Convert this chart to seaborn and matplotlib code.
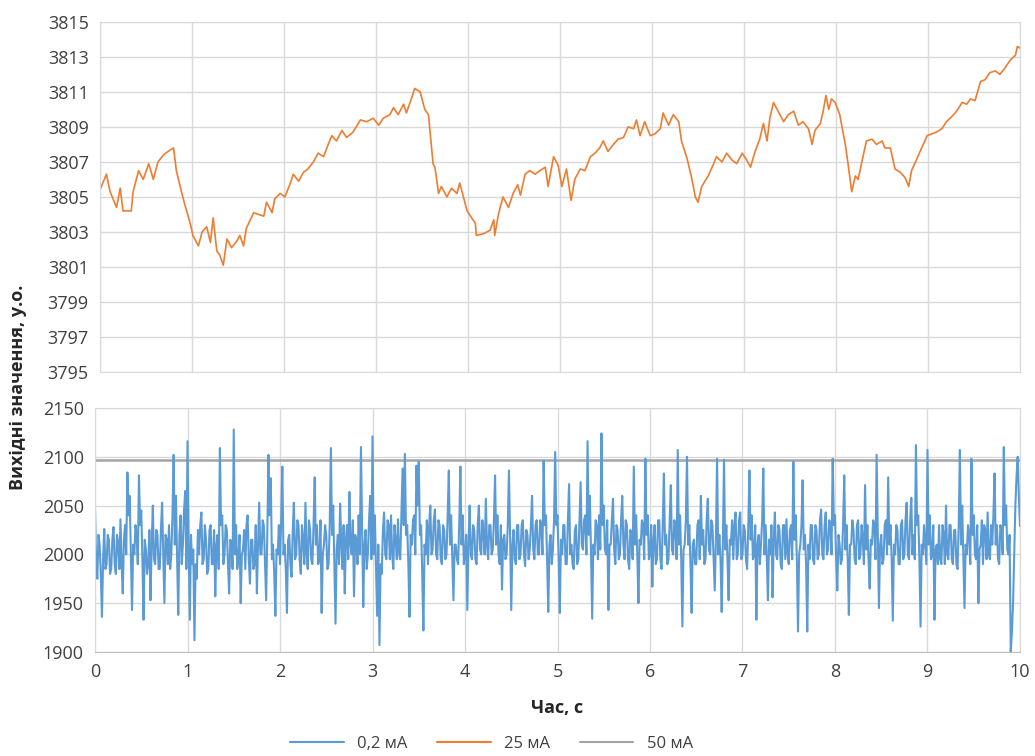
import numpy as np
import matplotlib
matplotlib.use("Agg")
import matplotlib.pyplot as plt
from matplotlib.lines import Line2D
import seaborn as sns

# 25 mA series (top panel), time in s and output value
orange_t = [0.00, 0.07, 0.11, 0.18, 0.22, 0.25, 0.34, 0.36, 0.42, 0.47, 0.53, 0.58, 0.63, 0.69,
            0.74, 0.80, 0.83, 0.89, 0.92, 0.98, 1.01, 1.07, 1.11, 1.16, 1.20, 1.23, 1.27, 1.30,
            1.34, 1.38, 1.43, 1.49, 1.52, 1.56, 1.59, 1.67, 1.78, 1.81, 1.87, 1.90, 1.96, 2.01,
            2.07, 2.10, 2.16, 2.21, 2.26, 2.32, 2.37, 2.43, 2.48, 2.52, 2.57, 2.63, 2.68, 2.75,
            2.83, 2.90, 2.97, 3.03, 3.08, 3.15, 3.19, 3.24, 3.30, 3.33, 3.39, 3.42, 3.48, 3.53,
            3.57, 3.62, 3.64, 3.68, 3.71, 3.77, 3.82, 3.88, 3.91, 3.95, 3.99, 4.04, 4.08, 4.09,
            4.17, 4.24, 4.28, 4.29, 4.33, 4.38, 4.44, 4.49, 4.54, 4.57, 4.62, 4.67, 4.73, 4.78,
            4.84, 4.87, 4.93, 4.98, 5.02, 5.07, 5.12, 5.16, 5.22, 5.27, 5.33, 5.38, 5.43, 5.47,
            5.52, 5.58, 5.63, 5.69, 5.74, 5.80, 5.83, 5.87, 5.92, 5.98, 6.03, 6.09, 6.12, 6.18,
            6.23, 6.29, 6.32, 6.38, 6.43, 6.47, 6.50, 6.54, 6.61, 6.67, 6.70, 6.76, 6.81, 6.87,
            6.92, 6.98, 7.03, 7.07, 7.12, 7.17, 7.21, 7.25, 7.28, 7.32, 7.37, 7.43, 7.48, 7.54,
            7.59, 7.64, 7.70, 7.74, 7.77, 7.83, 7.86, 7.89, 7.92, 7.95, 7.99, 8.04, 8.10, 8.13,
            8.17, 8.21, 8.24, 8.28, 8.33, 8.39, 8.44, 8.50, 8.53, 8.59, 8.64, 8.70, 8.75, 8.79,
            8.82, 8.88, 8.93, 8.99, 9.04, 9.09, 9.15, 9.20, 9.26, 9.31, 9.37, 9.42, 9.46, 9.51,
            9.57, 9.62, 9.67, 9.73, 9.78, 9.84, 9.89, 9.95, 9.97, 10.00]
orange_v = [3805.4, 3806.3, 3805.3, 3804.4, 3805.5, 3804.2, 3804.2, 3805.3, 3806.5, 3806.0,
            3806.9, 3806.0, 3807.0, 3807.4, 3807.6, 3807.8, 3806.5, 3805.2, 3804.6, 3803.5,
            3802.8, 3802.2, 3803.0, 3803.3, 3802.4, 3803.8, 3801.9, 3801.7, 3801.1, 3802.6,
            3802.1, 3802.5, 3802.8, 3802.2, 3803.2, 3804.1, 3803.9, 3804.7, 3804.1, 3804.9,
            3805.2, 3805.0, 3805.8, 3806.3, 3805.9, 3806.4, 3806.6, 3807.0, 3807.5, 3807.3,
            3808.0, 3808.5, 3808.2, 3808.8, 3808.4, 3808.7, 3809.4, 3809.3, 3809.5, 3809.1,
            3809.5, 3809.7, 3810.1, 3809.7, 3810.3, 3809.8, 3810.7, 3811.2, 3811.0, 3810.0,
            3809.7, 3806.9, 3806.7, 3805.2, 3805.6, 3805.0, 3805.5, 3805.2, 3805.8, 3805.0,
            3804.2, 3803.8, 3803.5, 3802.8, 3802.9, 3803.1, 3803.7, 3802.8, 3804.0, 3805.0,
            3804.4, 3805.2, 3805.7, 3805.1, 3806.3, 3806.5, 3806.3, 3806.5, 3806.7, 3805.6,
            3807.3, 3806.8, 3805.6, 3806.6, 3804.8, 3806.0, 3806.6, 3806.5, 3807.3, 3807.5,
            3807.8, 3808.2, 3807.6, 3808.0, 3808.3, 3808.4, 3809.0, 3808.9, 3809.4, 3808.5,
            3809.3, 3808.5, 3808.6, 3808.9, 3809.8, 3809.1, 3809.7, 3809.3, 3808.2, 3807.2,
            3806.1, 3805.0, 3804.7, 3805.6, 3806.2, 3806.9, 3807.3, 3807.0, 3807.5, 3807.1,
            3806.9, 3807.5, 3807.1, 3806.7, 3807.6, 3808.3, 3809.2, 3808.2, 3809.5, 3810.4,
            3809.9, 3809.3, 3809.7, 3809.9, 3809.1, 3809.3, 3808.9, 3808.0, 3808.8, 3809.2,
            3809.9, 3810.8, 3810.0, 3810.6, 3810.4, 3809.7, 3808.0, 3806.9, 3805.3, 3806.2,
            3806.0, 3807.0, 3808.2, 3808.3, 3808.0, 3808.2, 3807.8, 3807.8, 3806.6, 3806.4,
            3806.1, 3805.6, 3806.5, 3807.2, 3807.8, 3808.5, 3808.6, 3808.7, 3808.9, 3809.3,
            3809.6, 3809.9, 3810.4, 3810.3, 3810.6, 3810.5, 3811.6, 3811.7, 3812.1, 3812.2,
            3812.0, 3812.4, 3812.8, 3813.1, 3813.6, 3813.5]

# 0,2 mA series (bottom panel), sampled every 0.0125 s, one row per 0.1 s
blue_v = [
    2046, 1990, 1975, 2020, 2010, 1980, 1936, 1995,  2026, 1985, 1990, 2020, 2015, 1980, 1985, 2015,
    2028, 1990, 1980, 2020, 2012, 1985, 2036, 1990,  1960, 2015, 2030, 2000, 2084, 2040, 2060, 2000,
    1943, 2010, 2000, 2030, 2020, 1990, 2081, 2030,  2045, 1995, 1933, 2015, 2005, 1980, 1990, 2025,
    1953, 2010, 2050, 1995, 1990, 2025, 2020, 1985,  1985, 2025, 2053, 2000, 1950, 2020, 2015, 1990,
    2030, 1985, 2000, 2040, 2102, 2010, 2060, 1995,  1938, 2020, 2040, 1990, 2010, 2045, 2065, 1985,
    2116, 2010, 1933, 2020, 1990, 2005, 1912, 1990,  1975, 2025, 2000, 2030, 2043, 1990, 1995, 2030,
    2015, 1980, 1985, 2025, 2030, 1990, 1990, 2025,  1957, 2010, 2020, 1985, 2109, 2030, 2040, 1990,
    2000, 2030, 2025, 1990, 1960, 2015, 2010, 1985,  2128, 2000, 2030, 1985, 1995, 2020, 1950, 2000,
    2005, 2025, 1985, 2030, 2040, 1995, 1970, 2015,  2015, 1985, 1990, 2030, 1960, 2010, 2053, 2000,
    2000, 2035, 2030, 1990, 1953, 2020, 2102, 2040,  2078, 1995, 2010, 1980, 1937, 2005, 2000, 2030,
    1990, 2035, 2090, 2000, 2010, 1985, 1940, 2015,  2020, 1990, 1977, 2025, 2053, 1995, 2000, 2035,
    2030, 1995, 1980, 2030, 2015, 1990, 2053, 2000,  1985, 2035, 2025, 1995, 1990, 2030, 2079, 2010,
    2030, 1990, 1995, 2035, 1940, 2000, 2010, 2030,  2020, 1985, 1990, 2030, 2109, 2020, 2050, 1990,
    1929, 2005, 2020, 1990, 2052, 2010, 1985, 2030,  1960, 2015, 2030, 1995, 2064, 2010, 2000, 2035,
    1957, 2020, 2015, 1990, 2040, 2000, 2110, 2030,  1946, 2010, 2025, 1985, 2000, 2035, 2060, 1995,
    2121, 2000, 2040, 1990, 1937, 2010, 1907, 1990,  1980, 2025, 2043, 2000, 1995, 2035, 2030, 1995,
    2040, 2000, 1985, 2030, 2015, 1995, 2036, 2000,  1995, 2040, 2088, 2030, 2103, 2020, 2030, 1990,
    1936, 2020, 2010, 2035, 2040, 2000, 2091, 2050,  2095, 2020, 2030, 1980, 1922, 2010, 2000, 2035,
    1990, 2030, 2050, 2000, 2005, 2035, 2046, 2000,  1995, 2035, 2030, 1995, 1990, 2030, 2025, 1995,
    2000, 2040, 2086, 2010, 2040, 1995, 1953, 2010,  2010, 1995, 1990, 2030, 2090, 2010, 2040, 1990,
    2000, 2020, 1943, 2010, 2050, 2000, 1995, 2030,  2025, 1995, 1990, 2030, 2050, 2005, 2000, 2035,
    2020, 2000, 2057, 2010, 1995, 2030, 2030, 2000,  2005, 2035, 2081, 2010, 2040, 2000, 1990, 2030,
    1964, 2015, 2020, 1995, 2000, 2030, 2086, 2020,  1943, 2010, 2025, 1995, 1990, 2030, 2030, 1995,
    2000, 2030, 2035, 2000, 1988, 2025, 2020, 1995,  2005, 2030, 2060, 2005, 1995, 2030, 2035, 2000,
    2000, 2035, 2030, 2000, 2096, 2030, 2040, 1995,  1941, 2010, 2020, 1990, 2005, 2035, 2105, 2030,
    2040, 1995, 1940, 2015, 2000, 2030, 2030, 1990,  1990, 2035, 2072, 2000, 2010, 1990, 1985, 2025,
    2030, 1990, 1995, 2035, 2074, 2010, 2005, 2035,  2040, 2000, 2116, 2020, 2060, 2000, 1934, 2010,
    2000, 2035, 2030, 1995, 2040, 2005, 2124, 2030,  2050, 2005, 2000, 2035, 1943, 2010, 2010, 2035,
    2057, 2005, 1990, 2030, 2025, 1995, 2000, 2035,  2060, 2010, 1995, 2035, 2030, 1995, 1985, 2025,
    2020, 1995, 2090, 2010, 2040, 2000, 1950, 2015,  2010, 2035, 2030, 1995, 2098, 2020, 2040, 1995,
    2000, 2030, 1967, 2015, 2030, 1990, 1995, 2035,  2035, 1995, 1985, 2030, 2083, 2010, 2020, 1990,
    1995, 2035, 2071, 2005, 2000, 2035, 2030, 1995,  2107, 2010, 2040, 1995, 1926, 2005, 2010, 2035,
    2100, 2010, 2030, 1990, 1940, 2010, 2015, 1990,  1990, 2030, 2035, 1995, 2060, 2010, 2025, 1990,
    1995, 2035, 2057, 2005, 2000, 2035, 2030, 1995,  1963, 2015, 2098, 2000, 2020, 1995, 1941, 2010,
    2097, 2005, 2030, 1995, 1953, 2015, 2010, 2035,  1995, 2030, 2043, 1995, 2000, 2035, 2043, 1995,
    2000, 2030, 2025, 1995, 1985, 2030, 2086, 2015,  2040, 1995, 2000, 2030, 1933, 2010, 2020, 1990,
    2010, 2035, 2088, 2000, 2030, 1995, 1953, 2015,  2000, 2030, 1956, 2015, 2043, 2000, 1995, 2030,
    2025, 1990, 1985, 2030, 2030, 1995, 2036, 2000,  1990, 2025, 2030, 1995, 2095, 2015, 2040, 1995,
    1921, 2000, 2010, 2030, 2076, 2005, 2020, 1990,  1921, 2010, 1995, 2030, 2030, 1995, 1990, 2030,
    2025, 1995, 2000, 2035, 2046, 2000, 1995, 2030,  2043, 2000, 2005, 2035, 2030, 2000, 2098, 2030,
    2040, 1995, 1963, 2020, 2010, 1990, 1995, 2030,  2081, 2005, 2030, 1995, 1938, 2010, 2010, 2035,
    2025, 1995, 1990, 2030, 2035, 1995, 2000, 2030,  2015, 1990, 2071, 2005, 2030, 1995, 1965, 2015,
    2010, 2035, 2030, 1995, 2102, 2020, 1945, 2010,  2020, 1990, 1995, 2030, 2035, 2000, 2079, 2010,
    2030, 1995, 1932, 2010, 2000, 2030, 2025, 1990,  1990, 2030, 2035, 1995, 2000, 2035, 2053, 2000,
    1995, 2035, 2058, 2000, 2020, 1995, 2112, 2030,  2040, 1995, 1926, 2010, 2000, 2030, 2010, 1990,
    2107, 2010, 2040, 1995, 2000, 2030, 1933, 2005,  2010, 1990, 2030, 1995, 1990, 2030, 2020, 1990,
    2050, 2000, 1995, 2030, 2030, 1995, 1990, 2025,  2025, 1990, 1985, 2030, 2107, 2010, 2050, 1995,
    1945, 2010, 2000, 2030, 2020, 1990, 2098, 2020,  2040, 2000, 1995, 2030, 1950, 2005, 2010, 2035,
    1990, 2030, 2025, 1995, 2043, 2000, 1995, 2030,  2010, 2040, 2083, 2010, 2030, 1995, 1990, 2030,
    2025, 2000, 2110, 2030, 2050, 2005, 2000, 2020,  1900, 1920, 1950, 2000, 2050, 2080, 2100, 2060,
    2029]
blue_t = np.linspace(0, 10, len(blue_v))

# 50 mA level (bottom panel)
gray_t = [0, 10]
gray_v = [2097, 2097]

labels = ["0,2 мА", "25 мА", "50 мА"]
colors = ["#5B9BD5", "#ED7D31", "#A5A5A5"]

sns.set_style("white")
plt.rcParams["font.family"] = ["Open Sans", "DejaVu Sans"]

fig = plt.figure(figsize=(10.35, 7.56), dpi=100)
ax1 = fig.add_axes([0.0966, 0.508, 0.889, 0.463])
ax2 = fig.add_axes([0.0918, 0.1376, 0.8937, 0.3227])

sns.lineplot(x=orange_t, y=orange_v, ax=ax1, color=colors[1], lw=1.2)
sns.lineplot(x=gray_t, y=gray_v, ax=ax2, color=colors[2], lw=1.8)
sns.lineplot(x=blue_t, y=blue_v, ax=ax2, color=colors[0], lw=1.5)

ax1.set_ylim(3795, 3815)
ax1.set_yticks(range(3795, 3816, 2))
ax2.set_ylim(1900, 2150)
ax2.set_yticks(range(1900, 2151, 50))

for ax in (ax1, ax2):
    ax.set_xlim(0, 10)
    ax.set_xticks(range(0, 11))
    ax.grid(True, color="#D9D9D9", lw=1)
    ax.set_axisbelow(True)
    for s in ax.spines.values():
        s.set_color("#D9D9D9")
    ax.tick_params(length=0, labelsize=13, colors="#404040", pad=8)
    ax.set_xlabel("")
    ax.set_ylabel("")

ax1.tick_params(labelbottom=False)
ax2.spines["bottom"].set_color("#BFBFBF")

fig.text(0.017, 0.488, "Вихідні значення, у.о.", rotation=90, ha="center", va="center",
         fontsize=13, fontweight="bold", color="#262626")
fig.text(0.538, 0.063, "Час, с", ha="center", va="center",
         fontsize=13, fontweight="bold", color="#262626")

handles = [Line2D([], [], color=c, lw=1.5) for c in colors]
fig.legend(handles, labels, loc="center", bbox_to_anchor=(0.475, 0.016), ncol=3,
           frameon=False, fontsize=12, handlelength=3.2, columnspacing=1.8,
           labelcolor="#404040")

fig.savefig("out.png", dpi=100)
